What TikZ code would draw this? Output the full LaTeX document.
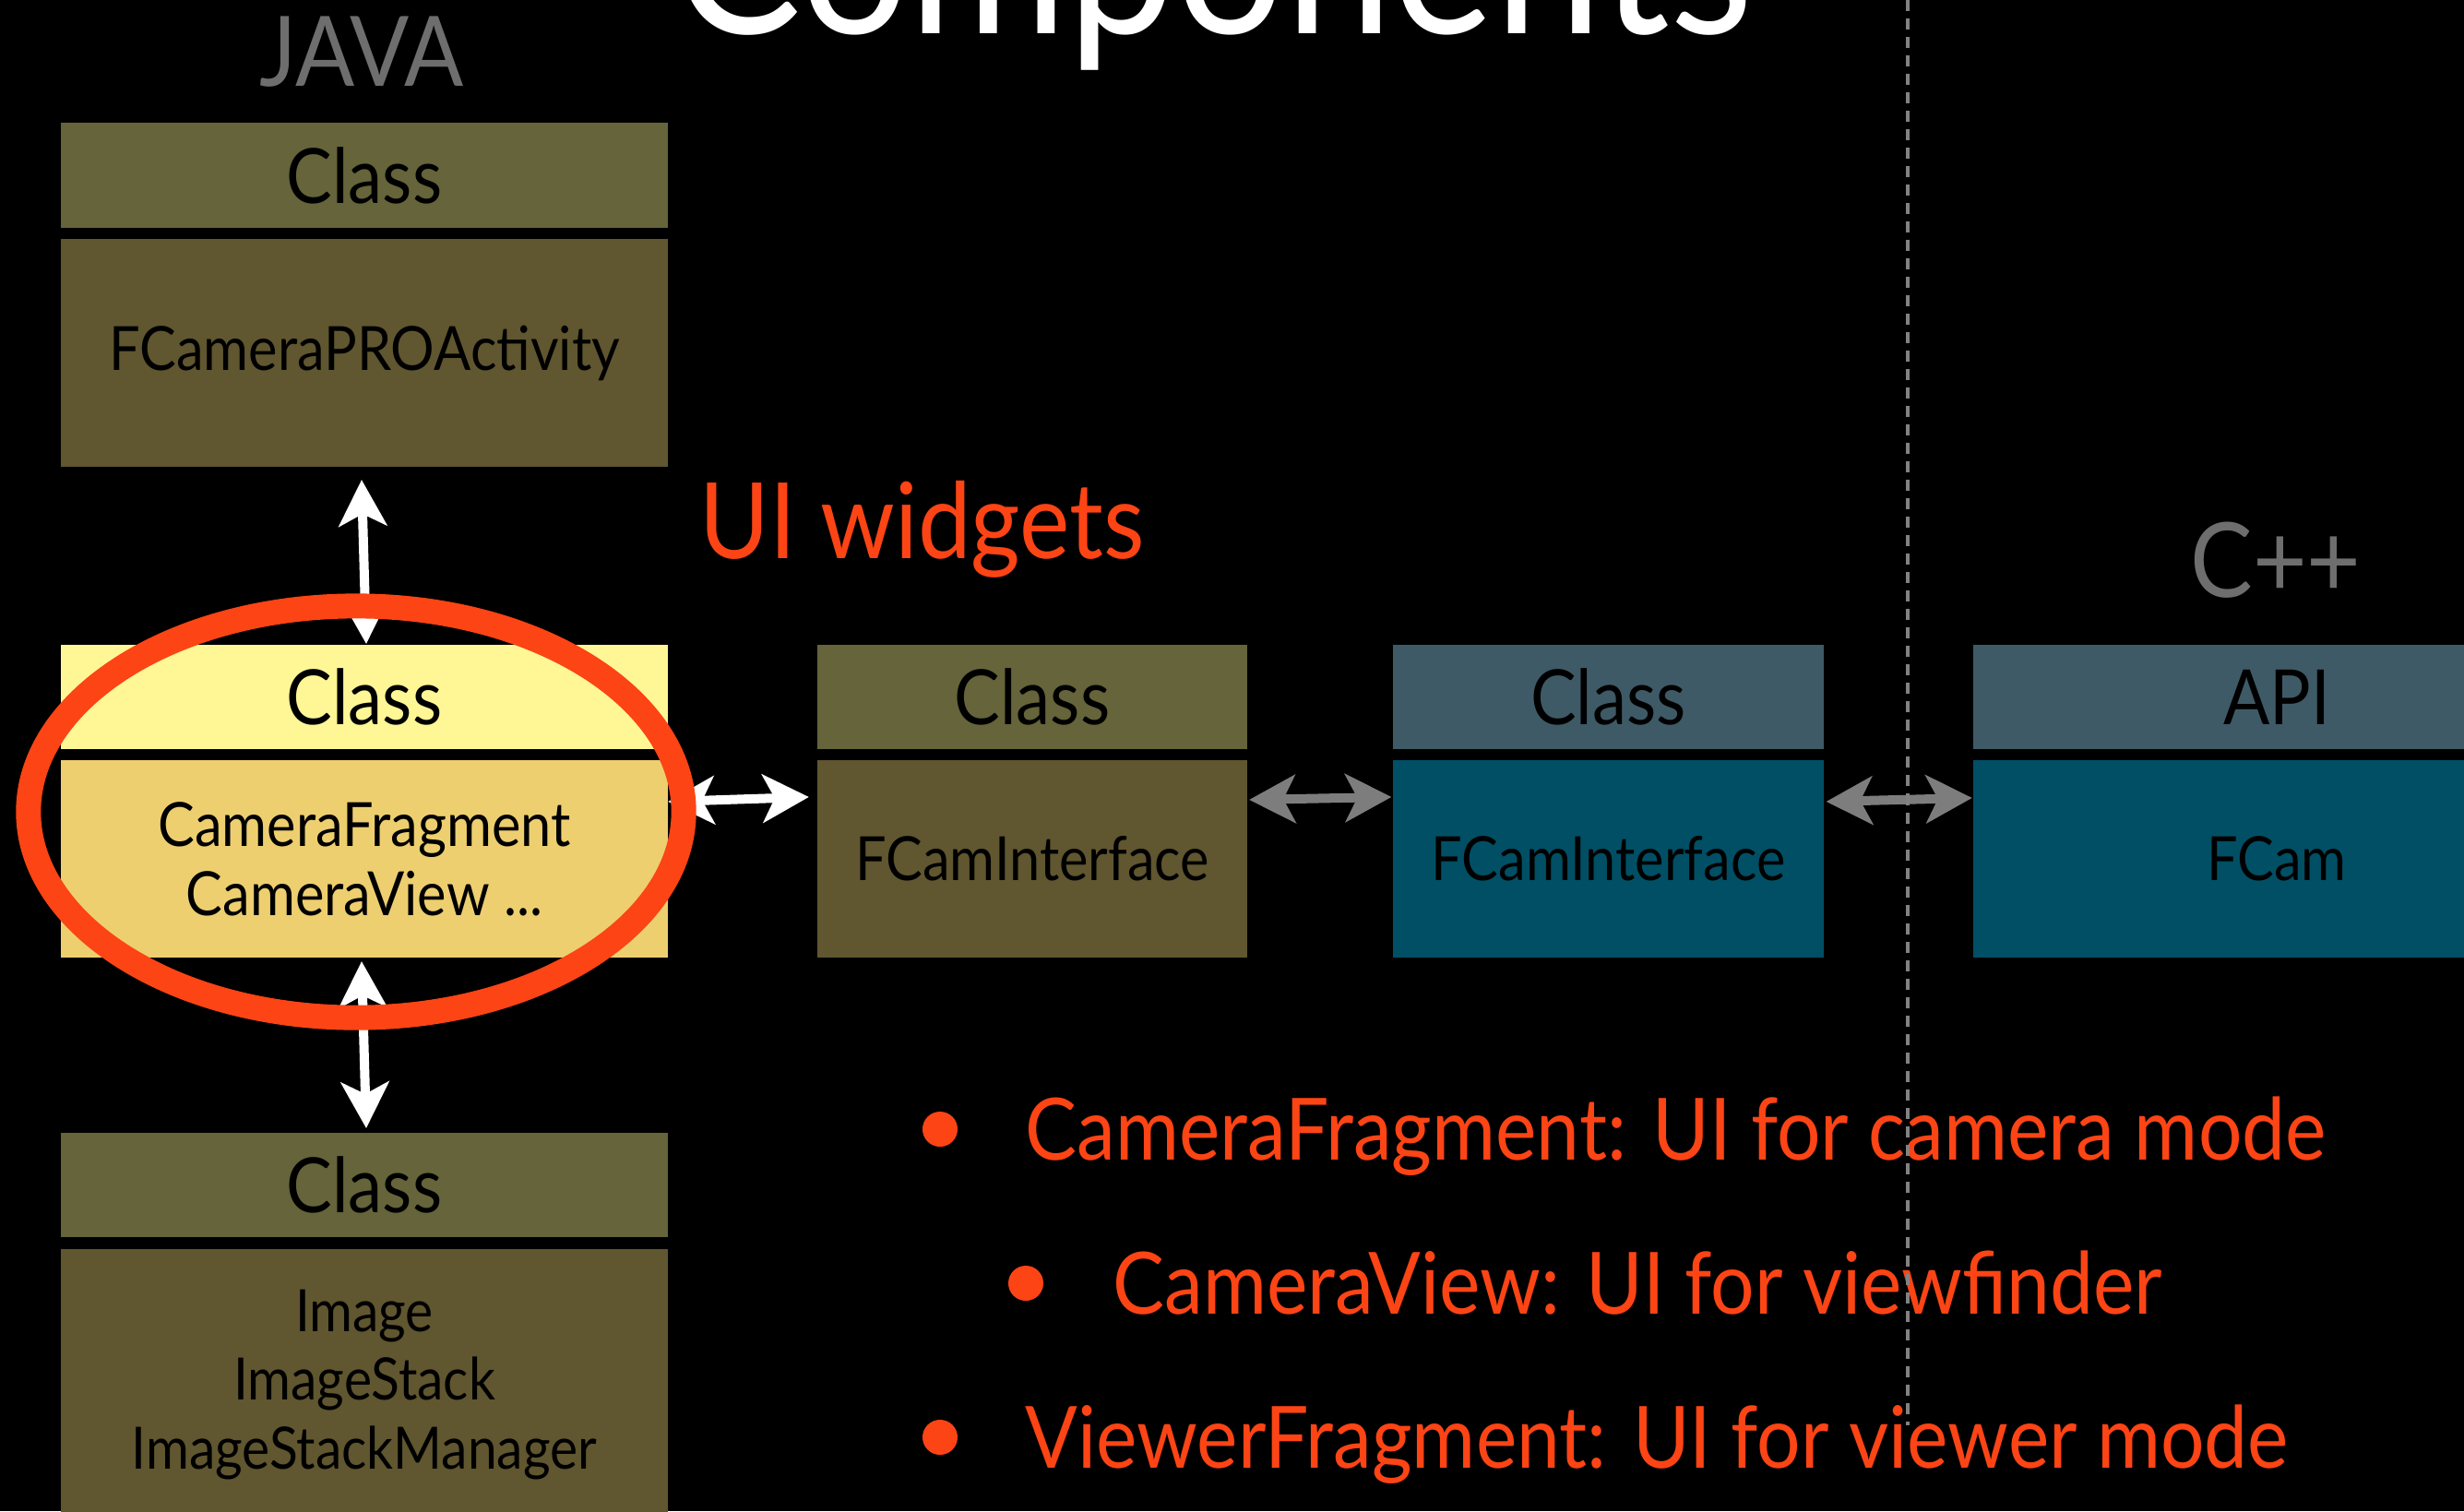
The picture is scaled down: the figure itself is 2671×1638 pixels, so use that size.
\documentclass[tikz,border=0pt]{standalone}
\usepackage{fontspec}
\setmainfont[FakeStretch=0.9]{Lato}
\usetikzlibrary{arrows.meta}
\definecolor{oliveH}{RGB}{101,100,58}
\definecolor{oliveB}{RGB}{96,86,47}
\definecolor{yelH}{RGB}{255,246,150}
\definecolor{yelB}{RGB}{237,207,112}
\definecolor{blueH}{RGB}{62,90,102}
\definecolor{blueB}{RGB}{0,79,101}
\definecolor{redO}{RGB}{252,68,21}
\definecolor{grayT}{RGB}{110,110,110}
\definecolor{grayA}{RGB}{125,125,125}
\definecolor{dashG}{RGB}{130,130,130}
\tikzset{
  box/.style={inner sep=0pt, outer sep=0pt, text=black, align=center},
  hdr/.style={box, minimum height=1.13cm, font=\fontsize{23.5}{26}\selectfont},
  bodyt/.style={box, minimum height=2.14cm, font=\fontsize{18.8}{21.3}\selectfont},
  wide/.style={minimum width=6.58cm},
  narrow/.style={minimum width=4.66cm},
  tip/.tip={Stealth[length=0.5cm,width=0.52cm,inset=0.13cm]},
  warr/.style={draw=white, line width=0.1cm, tip-tip},
  garr/.style={draw=grayA, line width=0.1cm, tip-tip},
  bul/.style={anchor=base west, text=redO, inner sep=0pt, font=\fontsize{26.5}{30}\selectfont},
  dot/.style={circle, fill=redO, inner sep=0pt, minimum size=0.38cm}
}
\begin{document}
\begin{tikzpicture}[x=0.01cm,y=-0.01cm]
\fill[black] (0,0) rectangle (2671,1638);
\useasboundingbox (0,0) rectangle (2671,1638);
\clip (0,0) rectangle (2671,1638);

% title and labels
\node[anchor=base, text=white, inner sep=0pt, font=\fontsize{66}{66}\selectfont] (title) at (1315,36) {Components};
\node[anchor=base, text=grayT, inner sep=0pt, font=\fontsize{30}{32}\selectfont] (java) at (392,93) {JAVA};
\node[anchor=base, text=grayT, inner sep=0pt, font=\fontsize{32}{34}\selectfont] (cpp) at (2467,647) {C++};
\node[anchor=base west, text=redO, inner sep=0pt, font=\fontsize{32.5}{34}\selectfont] (uiw) at (758,605) {UI widgets};

% left column
\node[hdr, wide, fill=oliveH] (th) at (395,190) {Class};
\node[box, wide, fill=oliveB, minimum height=2.47cm, font=\fontsize{18.8}{21.3}\selectfont] (tb) at (395,382.5) {FCameraPROActivity};
\node[hdr, wide, fill=yelH] (mh) at (395,755.5) {Class};
\node[bodyt, wide, fill=yelB] (mb) at (395,931) {CameraFragment\\CameraView ...};
\node[hdr, wide, fill=oliveH] (bh) at (395,1284.5) {Class};
\node[box, wide, fill=oliveB, minimum height=3.46cm] (bb) at (395,1527) {};
\node[box, font=\fontsize{18}{21.3}\selectfont] (bbt) at (395,1501) {Image\\ImageStack\\ImageStackManager};

% middle row
\node[hdr, narrow, fill=oliveH] (h2) at (1119,755.5) {Class};
\node[bodyt, narrow, fill=oliveB] (b2) at (1119,931) {FCamInterface};
\node[hdr, narrow, fill=blueH] (h3) at (1743.5,755.5) {Class};
\node[bodyt, narrow, fill=blueB] (b3) at (1743.5,931) {FCamInterface};
\node[hdr, wide, fill=blueH] (h4) at (2468,755.5) {API};
\node[bodyt, wide, fill=blueB] (b4) at (2468,931) {FCam};

% arrows
\draw[warr] ([shift={(-3,14)}]tb.south) -- ([shift={(2,-1)}]mh.north);
\draw[warr] ([shift={(-3,4)}]mb.south) -- ([shift={(2,-5)}]bh.north);
\draw[warr] ([shift={(0,45)}]mb.north east) -- ([shift={(-9,40)}]b2.north west);
\draw[garr] ([shift={(2,43)}]b2.north east) -- ([shift={(-2,40)}]b3.north west);
\draw[garr] ([shift={(3,45)}]b3.north east) -- ([shift={(-1,41)}]b4.north west);

% bullets
\node[dot] (d1) at (1019,1224) {};
\node[bul] (t1) at (1111,1257) {CameraFragment: UI for camera mode};
\node[dot] (d2) at (1112,1391) {};
\node[bul] (t2) at (1206,1424) {CameraView: UI for viewfinder};
\node[dot] (d3) at (1019,1558) {};
\node[bul] (t3) at (1111,1591) {ViewerFragment: UI for viewer mode};

% divider
\coordinate (dtop) at (2068,0);
\coordinate (dbot) at (2068,1545);
\draw[dashG, line width=0.04cm, dash pattern=on 0.12cm off 0.08cm] (dtop) -- (dbot);

% highlight ellipse
\draw[redO, line width=0.27cm] (386,880) ellipse [x radius=3.55cm, y radius=2.23cm];
\end{tikzpicture}
\end{document}
